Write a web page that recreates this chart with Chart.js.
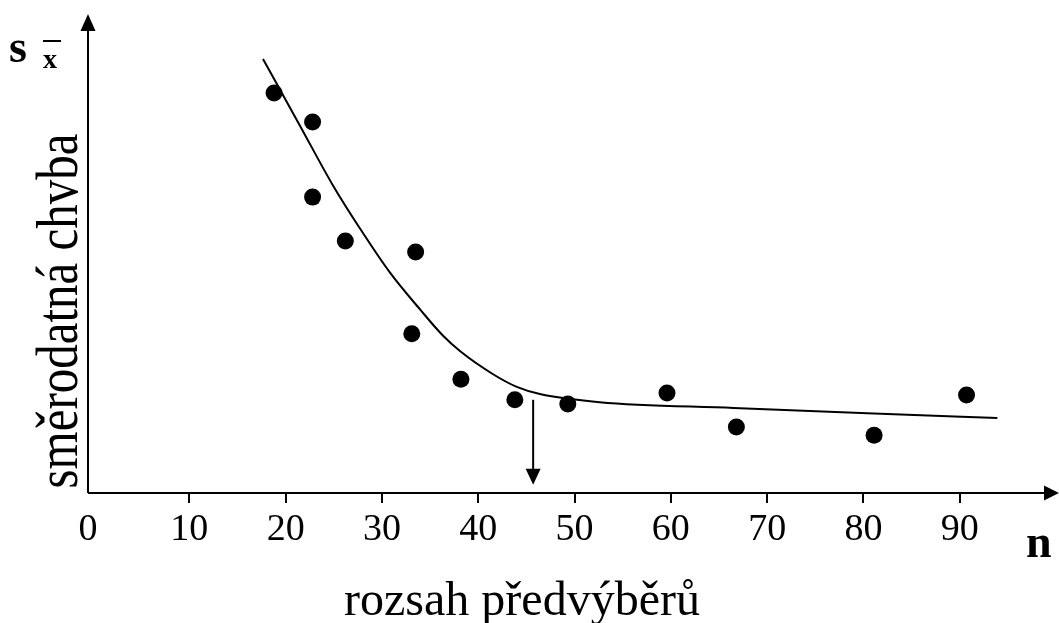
<!DOCTYPE html>
<html>
<head>
<meta charset="utf-8">
<script src="https://cdn.jsdelivr.net/npm/chart.js@4.4.1/dist/chart.umd.min.js"></script>
<style>
html,body{margin:0;padding:0;background:#fff;overflow:hidden;}
canvas{display:block;}
</style>
</head>
<body>
<canvas id="c" width="1059" height="623" style="width:1059px;height:623px;"></canvas>
<script>
// Observed sample points (n, standard error in arbitrary units)
const pointN = [18.8, 22.8, 22.8, 26.2, 33.5, 33.1, 38.2, 43.8, 49.3, 59.6, 66.8, 81.1, 90.7];
const pointS = [83.7, 77.6, 61.9, 52.7, 50.4, 33.3, 23.8, 19.5, 18.6, 20.9, 13.8, 12.1, 20.5];
// Fitted curve
const curveN = [17.65, 21.5, 24.9, 27.7, 30.8, 34.0, 36.3, 38.1, 41.5, 44.0, 46.4, 52.6, 66.5, 80.4, 93.9];
const curveS = [90.8, 76.8, 64.4, 55.4, 46.2, 38.3, 33.0, 29.7, 24.9, 22.2, 20.7, 19.0, 17.8, 16.7, 15.7];
// Marked optimum
const arrowN = 45.7;
const arrowFrom = 19.5;
const arrowTo = 1.7;
// Tick labels
const xTicks = [0, 10, 20, 30, 40, 50, 60, 70, 80, 90];
const xTitle = "rozsah předvýběrů";
const yTitle = "směrodatná chvba";

const serif = "'Liberation Serif', 'Times New Roman', serif";

function tri(ctx, x1, y1, x2, y2, x3, y3) {
  ctx.beginPath(); ctx.moveTo(x1, y1); ctx.lineTo(x2, y2); ctx.lineTo(x3, y3); ctx.closePath(); ctx.fill();
}

const decor = {
  id: 'decor',
  afterDraw(chart) {
    const ctx = chart.ctx, a = chart.chartArea, xs = chart.scales.x, ys = chart.scales.y;
    ctx.save();
    ctx.strokeStyle = '#000'; ctx.fillStyle = '#000'; ctx.lineWidth = 2;
    // axes
    ctx.beginPath();
    ctx.moveTo(a.left, a.bottom); ctx.lineTo(a.right - 12, a.bottom);
    ctx.moveTo(a.left, a.bottom); ctx.lineTo(a.left, a.top + 14);
    ctx.stroke();
    tri(ctx, a.right, a.bottom, a.right - 15, a.bottom - 7.5, a.right - 15, a.bottom + 7.5);
    tri(ctx, a.left, a.top - 1, a.left - 7.5, a.top + 16, a.left + 7.5, a.top + 16);
    // ticks
    ctx.beginPath();
    xTicks.forEach(v => { if (v === 0) return; const px = Math.round(xs.getPixelForValue(v)); ctx.moveTo(px, a.bottom); ctx.lineTo(px, a.bottom + 10); });
    ctx.stroke();
    // tick labels
    ctx.font = '38px ' + serif; ctx.textAlign = 'center'; ctx.textBaseline = 'alphabetic';
    xTicks.forEach(v => { const px = v === 0 ? a.left : xs.getPixelForValue(v); ctx.fillText(String(v), px, a.bottom + 47); });
    // arrow
    const ax = xs.getPixelForValue(arrowN), ay1 = ys.getPixelForValue(arrowFrom), ay2 = ys.getPixelForValue(arrowTo);
    ctx.beginPath(); ctx.moveTo(ax, ay1); ctx.lineTo(ax, ay2 - 10); ctx.stroke();
    tri(ctx, ax, ay2, ax - 7.5, ay2 - 16, ax + 7.5, ay2 - 16);
    // titles
    ctx.font = '48px ' + serif; ctx.textAlign = 'center';
    ctx.fillText(xTitle, 522, 615);
    ctx.save(); ctx.translate(77, 311); ctx.rotate(-Math.PI / 2); ctx.scale(1, 1.2); ctx.font = '49px ' + serif; ctx.fillText(yTitle, 0, 0); ctx.restore();
    ctx.font = 'bold 46px ' + serif; ctx.textAlign = 'left';
    ctx.fillText('n', 1026, 557);
    ctx.fillText('s', 9, 62);
    ctx.font = 'bold 28px ' + serif;
    ctx.fillText('x', 43, 68);
    ctx.fillRect(43, 40, 18, 2);
    ctx.restore();
  }
};

new Chart(document.getElementById('c'), {
  type: 'scatter',
  data: {
    datasets: [
      {
        data: curveN.map((n, i) => ({ x: n, y: curveS[i] })),
        showLine: true, borderColor: '#000', borderWidth: 2, pointRadius: 0,
        cubicInterpolationMode: 'monotone', fill: false
      },
      {
        data: pointN.map((n, i) => ({ x: n, y: pointS[i] })),
        showLine: false, pointRadius: 8.5, pointBackgroundColor: '#000', pointBorderWidth: 0, borderColor: '#000'
      }
    ]
  },
  options: {
    responsive: false, animation: false, devicePixelRatio: 1,
    layout: { autoPadding: false, padding: { left: 88, right: 0, top: 15, bottom: 130 } },
    plugins: { legend: { display: false }, tooltip: { enabled: false } },
    scales: {
      x: { type: 'linear', min: -0.52, max: 100.3, display: false },
      y: { type: 'linear', min: 0, max: 100, display: false }
    }
  },
  plugins: [decor]
});
</script>
</body>
</html>
